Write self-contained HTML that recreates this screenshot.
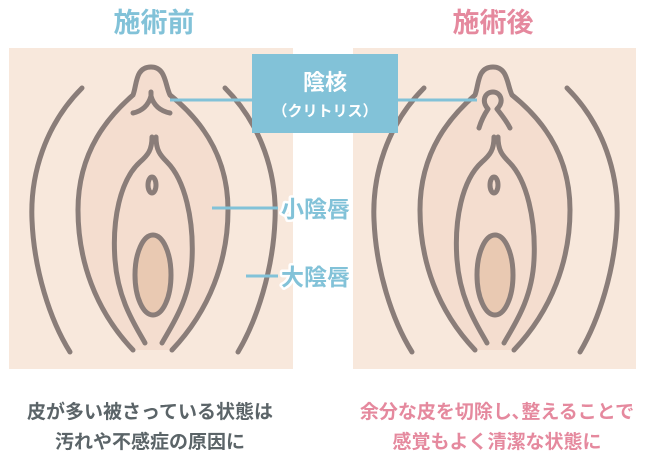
<!DOCTYPE html>
<html><head><meta charset="utf-8"><style>
html,body{margin:0;padding:0;background:#fff;width:650px;height:460px;overflow:hidden}
svg{display:block}
text{font-family:"Liberation Sans","Noto Sans CJK JP",sans-serif;font-weight:bold}
</style></head><body>
<svg width="650" height="460" viewBox="0 0 650 460">
<rect x="9" y="48" width="284" height="321" fill="#f8e8dc"/>
<rect x="353" y="48" width="283" height="321" fill="#f8e8dc"/>
<text x="154" y="32" font-size="27" fill="#82c2d8" text-anchor="middle">施術前</text>
<text x="493" y="32" font-size="27" fill="#e5899e" text-anchor="middle">施術後</text>
<defs>
<g id="fig" fill="none" stroke="#8a7d79" stroke-width="5" stroke-linecap="round">
<path d="M133 350 C95 310 78 260 78 210 C78 150 110 115 133 95 C137 85 135 67 151 67 C166 67 165 85 170 95 C195 115 228 150 228 210 C228 260 210 310 172 350 Z" fill="#f4ddcf" stroke="none"/>
<path d="M133 350 C95 310 78 260 78 210 C78 150 110 115 133 95 C137 85 135 67 151 67 C166 67 165 85 170 95 C195 115 228 150 228 210 C228 260 210 310 172 350"/>
<path d="M152 137 C152 150 148 155 140 162 C120 180 112 220 115 260 C118 300 135 325 145 343"/>
<path d="M156 137 C156 150 160 155 167 162 C185 180 194 220 192 260 C190 300 172 325 162 343"/>
<path d="M82 88 C45 125 30 175 32 220 C34 270 50 320 70 352"/>
<path d="M225 88 C262 125 277 175 275 220 C273 270 257 320 238 352"/>
<ellipse cx="152" cy="185" rx="4" ry="8"/>
<ellipse cx="153" cy="275" rx="18" ry="40" fill="#e9c9b2"/>
</g>
</defs>
<use href="#fig"/>
<use href="#fig" transform="translate(342,0)"/>
<g fill="none" stroke="#8a7d79" stroke-width="5" stroke-linecap="round" stroke-linejoin="round">
<path d="M133 113 Q147 110 151 96 Q155 110 170 113"/>
<path d="M151 92 L151 100"/>
<path d="M479 128 C482 118 486 112 488 109 C481 101 485 92 493 92 C500 92 505 101 497 109 C500 113 506 120 510 128"/>
</g>
<g stroke="#82c2d8" stroke-width="3">
<line x1="170" y1="100" x2="253" y2="100"/>
<line x1="398" y1="100" x2="477" y2="100"/>
<line x1="212" y1="208" x2="278" y2="208"/>
<line x1="246" y1="276" x2="278" y2="276"/>
</g>
<rect x="252" y="54" width="146" height="79" fill="#82c2d8"/>
<text x="325" y="90" font-size="22" fill="#fff" text-anchor="middle">陰核</text>
<text x="325" y="116" font-size="15" fill="#fff" text-anchor="middle">（クリトリス）</text>
<g font-size="23" fill="#82c2d8" stroke="#fff" stroke-width="5" paint-order="stroke" stroke-linejoin="round">
<text x="281" y="217">小陰唇</text>
<text x="281" y="285">大陰唇</text>
</g>
<g font-size="19" text-anchor="middle">
<text x="150" y="418" fill="#5b6468">皮が多い被さっている状態は</text>
<text x="150" y="448" fill="#5b6468">汚れや不感症の原因に</text>
<text x="497" y="418" fill="#e5899e">余分な皮を切除し､整えることで</text>
<text x="497" y="448" fill="#e5899e">感覚もよく清潔な状態に</text>
</g>
</svg>
</body></html>
